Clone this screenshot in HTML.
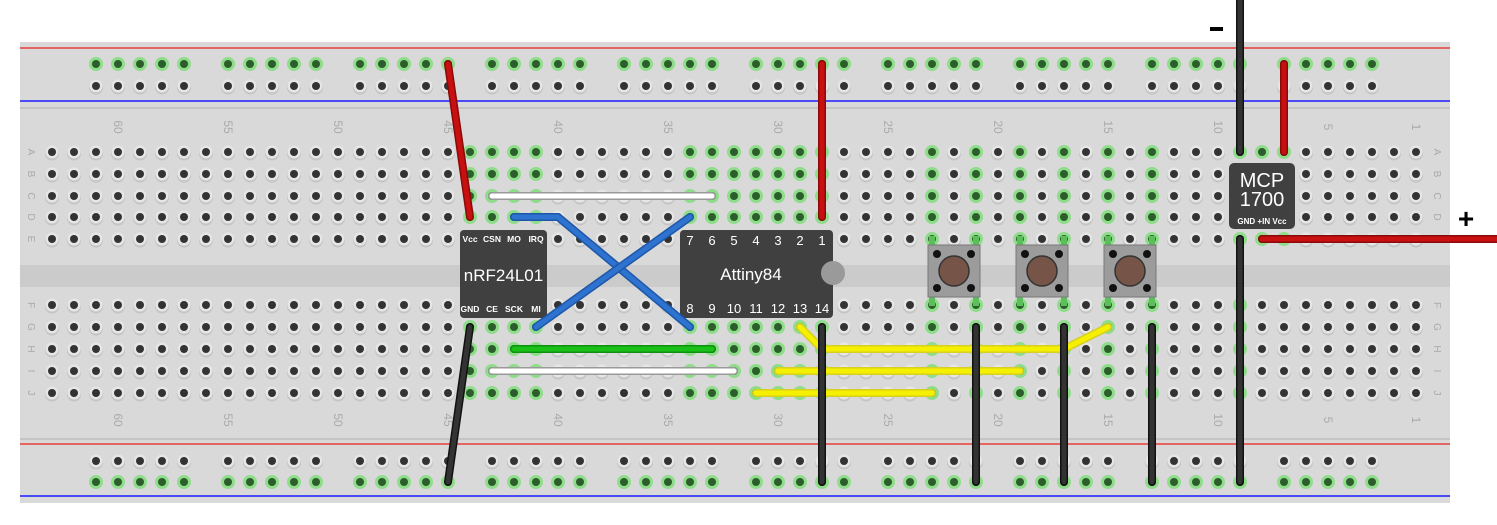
<!DOCTYPE html>
<html><head><meta charset="utf-8"><style>
html,body{margin:0;padding:0;background:#fff;width:1497px;height:525px;overflow:hidden}
svg{display:block;font-family:"Liberation Sans",sans-serif}
</style></head><body>
<svg id="s" width="1497" height="525" viewBox="0 0 1497 525" xmlns="http://www.w3.org/2000/svg"></svg>
<script>
var o=[];
function P(s){o.push(s);}
P('<rect x="20" y="42" width="1430" height="461" fill="#d9d9d9"/>');
P('<rect x="20" y="265" width="1430" height="22" fill="#cbcbcb"/>');
P('<line x1="20" y1="48" x2="1450" y2="48" stroke="#e8403a" stroke-width="1.5"/>');
P('<line x1="20" y1="101" x2="1450" y2="101" stroke="#1a1aff" stroke-width="1.5"/>');
P('<line x1="20" y1="108" x2="1450" y2="108" stroke="#bdbdbd" stroke-width="1.5"/>');
P('<line x1="20" y1="439" x2="1450" y2="439" stroke="#bdbdbd" stroke-width="1.5"/>');
P('<line x1="20" y1="444" x2="1450" y2="444" stroke="#e8403a" stroke-width="1.5"/>');
P('<line x1="20" y1="496" x2="1450" y2="496" stroke="#1a1aff" stroke-width="1.5"/>');
function hole(x,y,g){
 if(g){P('<circle cx="'+x+'" cy="'+y+'" r="7" fill="#8fdc8a"/><circle cx="'+x+'" cy="'+y+'" r="4" fill="#2b5e2b"/>');}
 else{P('<circle cx="'+x+'" cy="'+(y+1.5)+'" r="7" fill="#c4c4c4"/><circle cx="'+x+'" cy="'+y+'" r="6.5" fill="#e6e6e6"/><circle cx="'+x+'" cy="'+y+'" r="4" fill="#333"/>');}
}
// rails
for(var gI=0;gI<10;gI++)for(var k=0;k<5;k++){var x=96+gI*132+k*22;
 hole(x,64,true);hole(x,86,false);hole(x,461,false);hole(x,482,true);}
var topG=[470,492,514,536,690,712,734,756,778,800,822,932,976,1020,1064,1108,1152,1240,1262,1284];
var botG=[470,492,514,536,690,712,734,756,778,800,822,932,976,1020,1064,1108,1152,1240];
var rowsT=[152,174,196,217,239],rowsB=[305,327,349,371,393];
for(var c=1;c<=63;c++){var x=1416-(c-1)*22;
 var gt=topG.indexOf(x)>=0,gb=botG.indexOf(x)>=0;
 rowsT.forEach(function(y){hole(x,y,gt);});rowsB.forEach(function(y){hole(x,y,gb);});}
// column labels
[60,55,50,45,40,35,30,25,20,15,10,5,1].forEach(function(n){var x=1416-(n-1)*22;
 [127,420].forEach(function(y){P('<text transform="translate('+(x-4)+','+y+') rotate(90)" text-anchor="middle" font-size="12" fill="#aaa">'+n+'</text>');});});
var L="ABCDE",L2="FGHIJ";
for(var i=0;i<5;i++){[32,1438].forEach(function(x){
 P('<text transform="translate('+(x-4)+','+rowsT[i]+') rotate(90)" text-anchor="middle" font-size="10" fill="#aaa">'+L[i]+'</text>');
 P('<text transform="translate('+(x-4)+','+rowsB[i]+') rotate(90)" text-anchor="middle" font-size="10" fill="#aaa">'+L2[i]+'</text>');});}
// chips
P('<rect x="460" y="230" width="87" height="88" rx="4" fill="#404040"/>');
P('<text x="503.5" y="281" text-anchor="middle" font-size="17" fill="#fff">nRF24L01</text>');
[["Vcc",470],["CSN",492],["MO",514],["IRQ",536]].forEach(function(a){P('<text x="'+a[1]+'" y="242" text-anchor="middle" font-size="8.5" font-weight="bold" fill="#fff">'+a[0]+'</text>');});
[["GND",470],["CE",492],["SCK",514],["MI",536]].forEach(function(a){P('<text x="'+a[1]+'" y="312" text-anchor="middle" font-size="8.5" font-weight="bold" fill="#fff">'+a[0]+'</text>');});
P('<rect x="680" y="230" width="153" height="88" rx="4" fill="#404040"/>');
P('<circle cx="833" cy="273" r="12" fill="#9a9a9a"/>');
P('<text x="751" y="280" text-anchor="middle" font-size="17" fill="#fff">Attiny84</text>');
for(var i=0;i<7;i++){var x=690+i*22;
 P('<text x="'+x+'" y="245" text-anchor="middle" font-size="13" fill="#fff">'+(7-i)+'</text>');
 P('<text x="'+x+'" y="313" text-anchor="middle" font-size="13" fill="#fff">'+(8+i)+'</text>');}
P('<rect x="1229" y="163" width="66" height="66" rx="5" fill="#404040"/>');
P('<text x="1262" y="187" text-anchor="middle" font-size="20" fill="#fff">MCP</text>');
P('<text x="1262" y="206" text-anchor="middle" font-size="20" fill="#fff">1700</text>');
P('<text x="1262" y="224" text-anchor="middle" font-size="8" font-weight="bold" fill="#fff">GND +IN  Vcc</text>');
// buttons
[954,1042,1130].forEach(function(cx){
 [cx-22,cx+22].forEach(function(px){P('<rect x="'+(px-3)+'" y="236" width="6" height="12" fill="#5cbf5c"/><rect x="'+(px-3)+'" y="294" width="6" height="12" fill="#5cbf5c"/>');});
 P('<rect x="'+(cx-26)+'" y="245" width="52" height="52" fill="#9c9c9c" stroke="#777"/>');
 [[-17,-17],[17,-17],[-17,17],[17,17]].forEach(function(d){P('<circle cx="'+(cx+d[0])+'" cy="'+(271+d[1])+'" r="4" fill="#111"/>');});
 P('<circle cx="'+cx+'" cy="271" r="15" fill="#765448" stroke="#333" stroke-width="1.5"/>');});
// wires
function W(pts,col,dark){var d=pts.map(function(p){return p.join(',');}).join(' ');
 P('<polyline points="'+d+'" fill="none" stroke="'+dark+'" stroke-width="8" stroke-linecap="round" stroke-linejoin="round"/>');
 P('<polyline points="'+d+'" fill="none" stroke="'+col+'" stroke-width="5" stroke-linecap="round" stroke-linejoin="round"/>');}
var R='#c81010',RD='#8a0a0a',K='#333',KD='#111',Y='#f5f000',YD='#d8d020',B='#2f73d0',BD='#1e57a8';
W([[492,196],[712,196]],'#fff','#9a9a9a');
W([[492,371],[734,371]],'#fff','#9a9a9a');
W([[514,349],[712,349]],'#18c018','#0f900f');
W([[514,217],[558,217],[690,327]],B,BD);
W([[536,327],[690,217]],B,BD);
W([[800,327],[822,349],[1064,349],[1108,327]],Y,YD);
W([[778,371],[1020,371]],Y,YD);
W([[756,393],[932,393]],Y,YD);
W([[448,64],[470,217]],R,RD);
W([[822,64],[822,217]],R,RD);
W([[1284,64],[1284,152]],R,RD);
W([[1262,239],[1500,239]],R,RD);
W([[1240,-5],[1240,152]],K,KD);
W([[1240,239],[1240,482]],K,KD);
W([[470,327],[448,482]],K,KD);
[822,976,1064,1152].forEach(function(x){W([[x,327],[x,482]],K,KD);});
P('<rect x="1210" y="27" width="13" height="4" fill="#000"/>');
P('<text x="1466" y="228" text-anchor="middle" font-size="28" font-weight="bold" fill="#000">+</text>');
document.getElementById('s').innerHTML=o.join('');
</script>
</body></html>
